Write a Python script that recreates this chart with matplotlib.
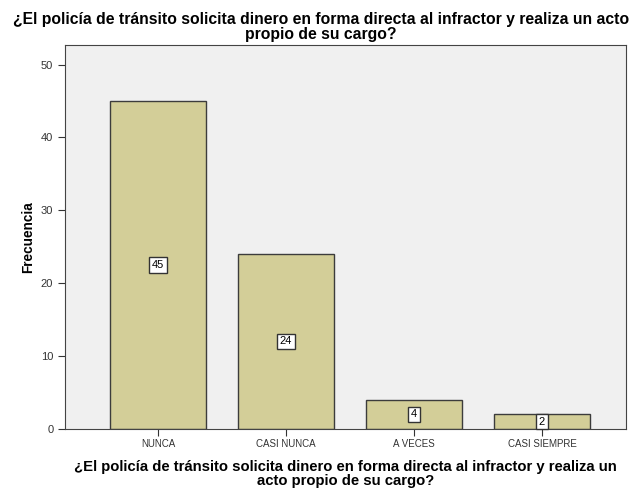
import matplotlib.pyplot as plt
import numpy as np

categorias = ['NUNCA', 'CASI NUNCA', 'A VECES', 'CASI SIEMPRE']
frecuencias = [45, 24, 4, 2]
titulo = '¿El policía de tránsito solicita dinero en forma directa al infractor y realiza un acto\npropio de su cargo?'
xlabel = '¿El policía de tránsito solicita dinero en forma directa al infractor y realiza un\nacto propio de su cargo?'

plt.rcParams['font.family'] = ['Liberation Sans', 'DejaVu Sans']

fig = plt.figure(figsize=(6.38, 4.93), dpi=100)
ax = fig.add_axes([0.102, 0.130, 0.879, 0.779])
ax.set_facecolor('#f0f0f0')

x = np.arange(len(categorias))
ax.bar(x, frecuencias, width=0.75, color='#d3ce98', edgecolor='#3c3c3c', linewidth=1, zorder=2)

for xi, v in zip(x, frecuencias):
    ax.text(xi, v / 2, str(v), ha='center', va='center', fontsize=8, zorder=3,
            bbox=dict(boxstyle='square,pad=0.25', fc='white', ec='#333333', lw=1))

ax.set_xlim(-0.727, 3.656)
ax.set_ylim(0, 52.7)
ax.set_yticks([0, 10, 20, 30, 40, 50])
ax.set_xticks(x)
ax.set_xticklabels(categorias, fontsize=7)
ax.tick_params(axis='y', labelsize=8, colors='#333333', length=5)
ax.tick_params(axis='x', length=5, colors='#333333', pad=2)
for s in ax.spines.values():
    s.set_color('#444444')

ax.set_ylabel('Frecuencia', fontsize=9.8, fontweight='bold')
ax.set_xlabel(xlabel, fontsize=10.7, fontweight='bold', labelpad=8, linespacing=1.0)
fig.text(0.503, 0.976, titulo, fontsize=11.3, fontweight='bold', ha='center', va='top',
         linespacing=1.0)

fig.savefig('out.png', dpi=100)
